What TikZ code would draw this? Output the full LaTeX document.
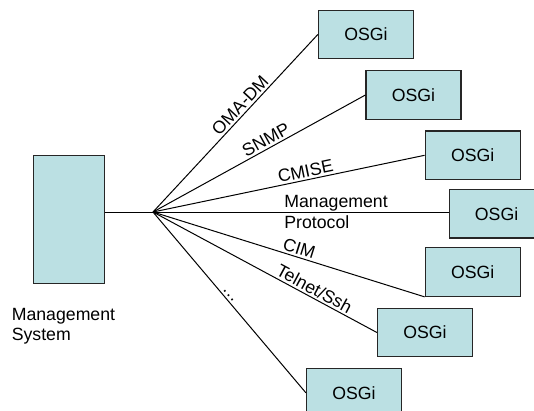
\documentclass[tikz,border=0pt]{standalone}
\usepackage{fontspec}
\setmainfont{Liberation Sans}
\definecolor{osgifill}{RGB}{187,224,227}
\tikzset{
  osgibox/.style={draw=black!85, line width=1.2pt, fill=osgifill, minimum width=95pt, minimum height=48.5pt, inner sep=0pt},
  proto/.style={sloped, above, inner sep=2pt},
}
\begin{document}
\begin{tikzpicture}[x=1pt, y=-1pt, font=\fontsize{17.7}{20.4}\selectfont, line width=1pt]
    \useasboundingbox (0,0) rectangle (534,410);
    \clip (0,0) rectangle (534,410);
    \node[osgibox, minimum width=71.5pt, minimum height=127.7pt] (ms) at (69,219.5) {};
    \node[anchor=west, align=left, inner sep=0pt] (mslabel) at (11.3,326) {Management\\System};
    \coordinate (hub) at (153,212);
    \foreach \n/\x/\y in {1/366/34.4, 2/413.5/95, 3/472.7/155.3, 4/496.6/213.8, 5/472.7/272, 6/425/332.5, 7/354/392.8}
    \node[osgibox] (osgi\n) at (\x,\y) {OSGi};
    \draw (hub -| ms.east) -- (hub);
    \foreach \n/\a/\p/\t in {1/west/0.567/OMA-DM, 2/west/0.551/SNMP, 3/west/0.568/CMISE, 5/south west/0.529/CIM, 6/west/0.702/{Telnet/Ssh}, 7/west/0.477/\dots}
    \draw (hub) -- node[proto, pos=\p] {\t} (osgi\n.\a);
    \draw (hub) -- node[pos=0.443, anchor=west, align=left, inner sep=0pt] {Management\\Protocol} (hub -| osgi4.west);
    \end{tikzpicture}
\end{document}
